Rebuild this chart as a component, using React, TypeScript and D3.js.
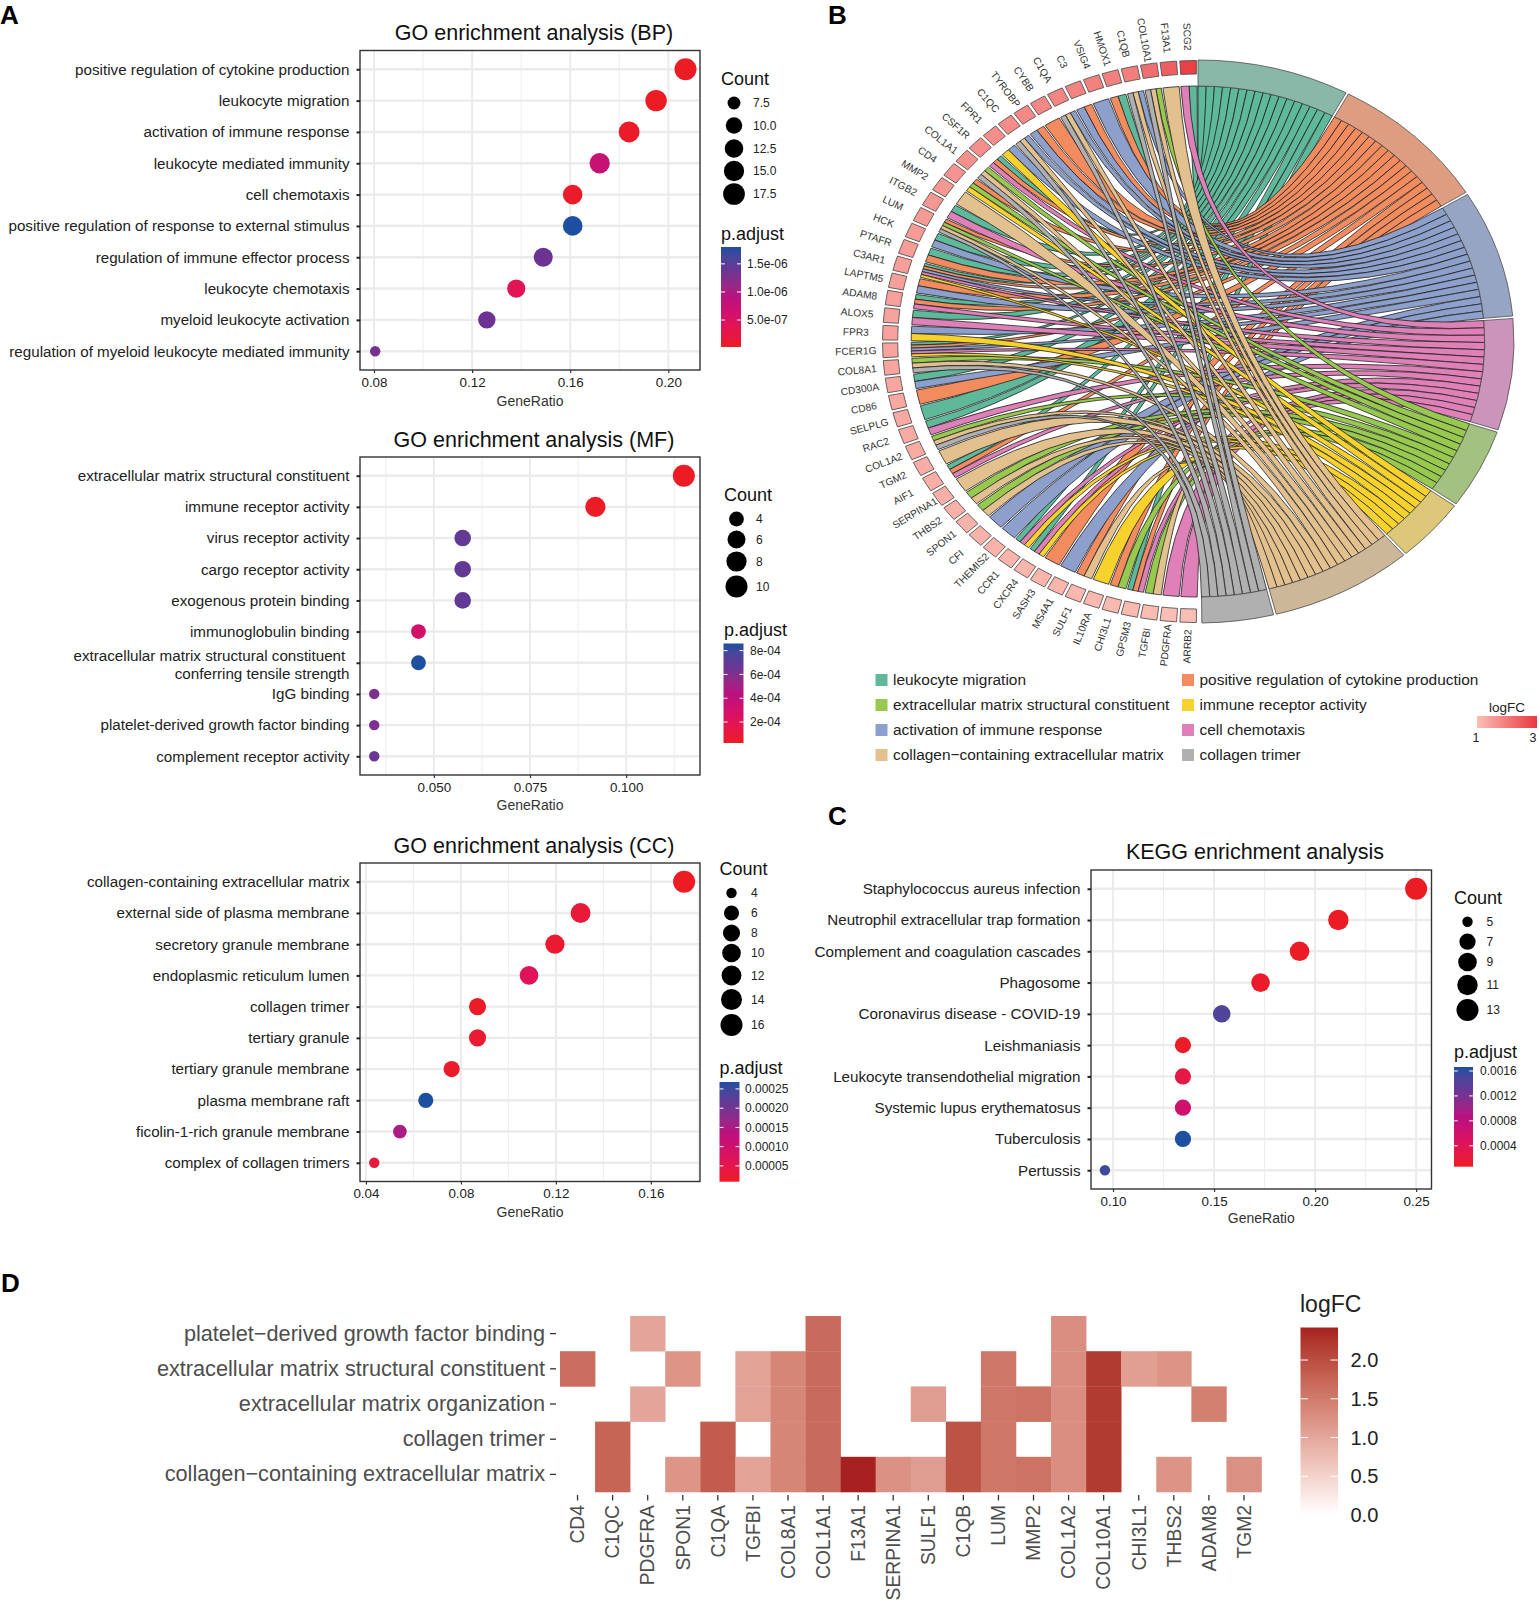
import { useEffect, useRef } from 'react';
import * as d3 from 'd3';

const FONT = '"Liberation Sans", Arial, sans-serif';
// red to blue through magenta and purple, as in the printed colour bars
const padjStops = ['#EC1C24', '#DE1260', '#B9117F', '#6C3393', '#1D4FA0'];

// panel A, biological process
const bpTerms = [
  'positive regulation of cytokine production',
  'leukocyte migration',
  'activation of immune response',
  'leukocyte mediated immunity',
  'cell chemotaxis',
  'positive regulation of response to external stimulus',
  'regulation of immune effector process',
  'leukocyte chemotaxis',
  'myeloid leukocyte activation',
  'regulation of myeloid leukocyte mediated immunity',
];
const bpRatio = [0.207, 0.195, 0.184, 0.172, 0.161, 0.161, 0.149, 0.138, 0.126, 0.0805];
const bpCount = [18, 17, 16, 15, 14, 14, 13, 12, 11, 7];
const bpPadj = [2e-8, 2e-8, 5e-8, 7.6e-7, 6e-8, 1.8e-6, 1.35e-6, 3.7e-7, 1.35e-6, 1.3e-6];

// panel A, molecular function
const mfTerms = [
  'extracellular matrix structural constituent',
  'immune receptor activity',
  'virus receptor activity',
  'cargo receptor activity',
  'exogenous protein binding',
  'immunoglobulin binding',
  'extracellular matrix structural constituent \nconferring tensile strength',
  'IgG binding',
  'platelet-derived growth factor binding',
  'complement receptor activity',
];
const mfRatio = [0.115, 0.092, 0.0575, 0.0575, 0.0575, 0.046, 0.046, 0.0345, 0.0345, 0.0345];
const mfCount = [10, 8, 5, 5, 5, 4, 4, 3, 3, 3];
const mfPadj = [2.4e-5, 3e-5, 6.9e-4, 6.9e-4, 6.9e-4, 2.9e-4, 8.6e-4, 6.1e-4, 6.1e-4, 6.6e-4];

// panel A, cellular component
const ccTerms = [
  'collagen-containing extracellular matrix',
  'external side of plasma membrane',
  'secretory granule membrane',
  'endoplasmic reticulum lumen',
  'collagen trimer',
  'tertiary granule',
  'tertiary granule membrane',
  'plasma membrane raft',
  'ficolin-1-rich granule membrane',
  'complex of collagen trimers',
];
const ccRatio = [0.174, 0.1304, 0.1196, 0.1087, 0.087, 0.087, 0.0761, 0.0652, 0.0543, 0.0435];
const ccCount = [16, 12, 11, 10, 8, 8, 7, 6, 5, 4];
const ccPadj = [9e-6, 3e-5, 2e-5, 6.6e-5, 1.2e-5, 2.2e-5, 1.5e-5, 2.68e-4, 1.5e-4, 3.5e-5];

// panel C, KEGG
const keggTerms = [
  'Staphylococcus aureus infection',
  'Neutrophil extracellular trap formation',
  'Complement and coagulation cascades',
  'Phagosome',
  'Coronavirus disease - COVID-19',
  'Leishmaniasis',
  'Leukocyte transendothelial migration',
  'Systemic lupus erythematosus',
  'Tuberculosis',
  'Pertussis',
];
const keggRatio = [0.25, 0.2115, 0.1923, 0.173, 0.1538, 0.1346, 0.1346, 0.1346, 0.1346, 0.096];
const keggCount = [13, 11, 10, 9, 8, 7, 7, 7, 7, 5];
const keggPadj = [6.4e-5, 7e-5, 8e-5, 1e-4, 1.47e-3, 8e-5, 2.7e-4, 6.2e-4, 1.66e-3, 1.55e-3];

// panel B, chord
const chordTerms = [
  'leukocyte migration',
  'positive regulation of cytokine production',
  'activation of immune response',
  'cell chemotaxis',
  'extracellular matrix structural constituent',
  'immune receptor activity',
  'collagen\u2212containing extracellular matrix',
  'collagen trimer',
];
const ribbonColors = ['#5DB99A', '#F28B5E', '#8DA0CB', '#DF80B8', '#98C94F', '#F7D22D', '#E3C18F', '#B0B0B0'];
const arcColors = ['#8AB8A8', '#DE9C80', '#97A5C4', '#CC94BA', '#A3C281', '#DCC878', '#CCB898', '#B0B0B0'];
const chordGenes = [
  'SCG2', 'F13A1', 'COL10A1', 'C1QB', 'HMOX1', 'VSIG4', 'C3', 'C1QA', 'CYBB', 'TYROBP',
  'C1QC', 'FPR1', 'CSF1R', 'COL1A1', 'CD4', 'MMP2', 'ITGB2', 'LUM', 'HCK', 'PTAFR',
  'C3AR1', 'LAPTM5', 'ADAM8', 'ALOX5', 'FPR3', 'FCER1G', 'COL8A1', 'CD300A', 'CD86', 'SELPLG',
  'RAC2', 'COL1A2', 'TGM2', 'AIF1', 'SERPINA1', 'THBS2', 'SPON1', 'CFI', 'THEMIS2', 'CCR1',
  'CXCR4', 'SASH3', 'MS4A1', 'SULF1', 'IL10RA', 'CHI3L1', 'GPSM3', 'TGFBI', 'PDGFRA', 'ARRB2',
];
const geneLogFC = [
  2.9, 2.42, 2.2, 1.95, 1.93, 1.91, 1.88, 1.85, 1.82, 1.78,
  1.75, 1.72, 1.7, 1.68, 1.65, 1.6, 1.58, 1.55, 1.53, 1.51,
  1.49, 1.47, 1.45, 1.43, 1.42, 1.4, 1.38, 1.36, 1.34, 1.32,
  1.3, 1.28, 1.26, 1.25, 1.24, 1.22, 1.2, 1.19, 1.18, 1.16,
  1.15, 1.14, 1.13, 1.12, 1.1, 1.09, 1.08, 1.06, 1.02, 1.01,
];
// which terms each gene belongs to, same order as chordGenes
const geneTerms = [
  [0, 3], [6], [4, 6, 7], [2, 6, 7], [0, 1], [2], [1, 2], [2, 6, 7], [1], [1, 2],
  [2, 6, 7], [2, 5], [0, 1, 3], [4, 6, 7], [1, 4, 5], [6], [0, 3], [1, 4, 6, 7], [0, 2], [0, 1],
  [0, 1, 2, 3, 5], [1, 2], [0, 1, 3], [0, 3], [2, 5], [0, 1, 2, 3, 5], [4, 6, 7], [0, 2], [1], [0],
  [0, 3], [4, 6, 7], [6], [0, 1, 3], [6], [4, 6], [4, 6], [2], [2], [0, 3, 5],
  [0, 3, 5], [1], [2], [1, 6], [5], [1, 4], [0, 1, 3], [4, 6], [3], [3],
];
// legend reads across the two columns in this term order
const chordLegendOrder = [0, 1, 4, 5, 2, 3, 6, 7];

// panel D, heatmap
const heatGenes = [
  'CD4', 'C1QC', 'PDGFRA', 'SPON1', 'C1QA', 'TGFBI', 'COL8A1', 'COL1A1', 'F13A1', 'SERPINA1',
  'SULF1', 'C1QB', 'LUM', 'MMP2', 'COL1A2', 'COL10A1', 'CHI3L1', 'THBS2', 'ADAM8', 'TGM2',
];
const heatTerms = [
  'platelet\u2212derived growth factor binding',
  'extracellular matrix structural constituent',
  'extracellular matrix organization',
  'collagen trimer',
  'collagen\u2212containing extracellular matrix',
];
const heatMembers = [
  ['PDGFRA', 'COL1A1', 'COL1A2'],
  ['CD4', 'SPON1', 'TGFBI', 'COL8A1', 'COL1A1', 'LUM', 'COL1A2', 'COL10A1', 'CHI3L1', 'THBS2'],
  ['PDGFRA', 'TGFBI', 'COL8A1', 'COL1A1', 'SULF1', 'LUM', 'MMP2', 'COL1A2', 'COL10A1', 'ADAM8'],
  ['C1QC', 'C1QA', 'COL8A1', 'COL1A1', 'C1QB', 'LUM', 'COL1A2', 'COL10A1'],
  ['C1QC', 'SPON1', 'C1QA', 'TGFBI', 'COL8A1', 'COL1A1', 'F13A1', 'SERPINA1', 'SULF1', 'C1QB', 'LUM', 'MMP2', 'COL1A2', 'COL10A1', 'THBS2', 'TGM2'],
];

const dotPanels = [
  {
    id: 'bp', title: 'GO enrichment analysis (BP)', terms: bpTerms, ratio: bpRatio, count: bpCount, padj: bpPadj,
    plot: { l: 360, r: 700, t: 50.5, b: 370 }, titleX: 534, titleY: 40, xLabelOffset: 36,
    xDomain: [0.0743, 0.2129], xMajor: [0.08, 0.12, 0.16, 0.2], xMinor: [0.1, 0.14, 0.18], xFormat: '.2f',
    sizeKeys: [7.5, 10, 12.5, 15, 17.5], sizeKeyLabels: ['7.5', '10.0', '12.5', '15.0', '17.5'], sizeKeyY: [103, 125.5, 148.5, 171, 194],
    legendX: 721, countY: 85, keyX: 734, keyLabelX: 753,
    padjTitleY: 240, bar: { x: 721, w: 20, t: 247, b: 347 }, barLabelX: 747, pDomain: [2e-8, 1.8e-6],
    pTicks: [5e-7, 1e-6, 1.5e-6], pLabels: ['5.0e-07', '1.0e-06', '1.5e-06'],
  },
  {
    id: 'mf', title: 'GO enrichment analysis (MF)', terms: mfTerms, ratio: mfRatio, count: mfCount, padj: mfPadj,
    plot: { l: 360, r: 700, t: 457, b: 775 }, titleX: 534, titleY: 447, xLabelOffset: 35,
    xDomain: [0.0308, 0.1192], xMajor: [0.05, 0.075, 0.1], xMinor: [0.0375, 0.0625, 0.0875, 0.1125], xFormat: '.3f',
    sizeKeys: [4, 6, 8, 10], sizeKeyLabels: ['4', '6', '8', '10'], sizeKeyY: [519, 539.5, 561.5, 586.5],
    legendX: 724, countY: 501, keyX: 736.5, keyLabelX: 756,
    padjTitleY: 636, bar: { x: 723.5, w: 20, t: 643.5, b: 743 }, barLabelX: 750, pDomain: [2.4e-5, 8.6e-4],
    pTicks: [2e-4, 4e-4, 6e-4, 8e-4], pLabels: ['2e-04', '4e-04', '6e-04', '8e-04'],
  },
  {
    id: 'cc', title: 'GO enrichment analysis (CC)', terms: ccTerms, ratio: ccRatio, count: ccCount, padj: ccPadj,
    plot: { l: 360, r: 700, t: 863, b: 1181.5 }, titleX: 534, titleY: 853, xLabelOffset: 35,
    xDomain: [0.0375, 0.1807], xMajor: [0.04, 0.08, 0.12, 0.16], xMinor: [0.06, 0.1, 0.14, 0.18], xFormat: '.2f',
    sizeKeys: [4, 6, 8, 10, 12, 14, 16], sizeKeyLabels: ['4', '6', '8', '10', '12', '14', '16'], sizeKeyY: [893, 913, 933, 953, 975.5, 999.5, 1025],
    legendX: 719.5, countY: 875, keyX: 731.5, keyLabelX: 751,
    padjTitleY: 1074, bar: { x: 719.5, w: 20, t: 1082, b: 1181.7 }, barLabelX: 745, pDomain: [9e-6, 2.68e-4],
    pTicks: [5e-5, 1e-4, 1.5e-4, 2e-4, 2.5e-4], pLabels: ['0.00005', '0.00010', '0.00015', '0.00020', '0.00025'],
  },
  {
    id: 'kegg', title: 'KEGG enrichment analysis', terms: keggTerms, ratio: keggRatio, count: keggCount, padj: keggPadj,
    plot: { l: 1091, r: 1431.5, t: 870, b: 1189 }, titleX: 1255, titleY: 859, xLabelOffset: 34,
    xDomain: [0.0891, 0.2576], xMajor: [0.1, 0.15, 0.2, 0.25], xMinor: [0.125, 0.175, 0.225], xFormat: '.2f',
    sizeKeys: [5, 7, 9, 11, 13], sizeKeyLabels: ['5', '7', '9', '11', '13'], sizeKeyY: [921.7, 941.7, 962, 985, 1010],
    legendX: 1454, countY: 904, keyX: 1467.5, keyLabelX: 1486.5,
    padjTitleY: 1058, bar: { x: 1454, w: 19, t: 1067, b: 1166.7 }, barLabelX: 1480, pDomain: [6.4e-5, 1.664e-3],
    pTicks: [4e-4, 8e-4, 1.2e-3, 1.6e-3], pLabels: ['0.0004', '0.0008', '0.0012', '0.0016'],
  },
];

function drawColorbar(g: any, id: string, bar: any, color: any, domain: number[], ticks: number[], labels: string[], labelX: number, fs: number) {
  const stops = d3.range(0, 1.001, 0.1);
  const grad = g.append('defs').append('linearGradient').attr('id', id).attr('x1', 0).attr('x2', 0).attr('y1', 1).attr('y2', 0);
  grad.selectAll('stop').data(stops).join('stop')
    .attr('offset', (d: number) => d)
    .attr('stop-color', (d: number) => color(domain[0] + d * (domain[1] - domain[0])));
  g.append('rect').attr('x', bar.x).attr('y', bar.t).attr('width', bar.w).attr('height', bar.b - bar.t).attr('fill', `url(#${id})`);
  const y = d3.scaleLinear().domain(domain).range([bar.b, bar.t]);
  ticks.forEach((t, i) => {
    const len = bar.w / 5;
    g.append('line').attr('x1', bar.x).attr('x2', bar.x + len).attr('y1', y(t)).attr('y2', y(t)).attr('stroke', '#fff').attr('stroke-width', 1);
    g.append('line').attr('x1', bar.x + bar.w - len).attr('x2', bar.x + bar.w).attr('y1', y(t)).attr('y2', y(t)).attr('stroke', '#fff').attr('stroke-width', 1);
    g.append('text').attr('x', labelX).attr('y', y(t)).attr('dy', '0.35em').attr('font-size', fs).attr('fill', '#222').text(labels[i]);
  });
}

function drawDotPlot(svg: any, p: any) {
  const g = svg.append('g').attr('font-family', FONT);
  const { l, r, t, b } = p.plot;
  const x = d3.scaleLinear().domain(p.xDomain).range([l, r]);
  const y = d3.scalePoint().domain(p.terms).range([t, b]).padding(0.6);
  const [p0, p1] = p.pDomain;
  const color = d3.scaleLinear<string>()
    .domain(padjStops.map((_, i) => p0 + (i / (padjStops.length - 1)) * (p1 - p0)))
    .range(padjStops)
    .interpolate(d3.interpolateLab);
  const minC = d3.min(p.count as number[]) as number;
  const maxC = d3.max(p.count as number[]) as number;
  const sq = d3.scaleSqrt().domain([0, maxC - minC]).range([5.2, 11]);
  const size = (c: number) => sq(c - minC);

  // grid
  g.selectAll('.minor').data(p.xMinor).join('line').attr('x1', (d: number) => x(d)).attr('x2', (d: number) => x(d))
    .attr('y1', t).attr('y2', b).attr('stroke', '#EDEDED').attr('stroke-width', 1);
  g.selectAll('.major').data(p.xMajor).join('line').attr('x1', (d: number) => x(d)).attr('x2', (d: number) => x(d))
    .attr('y1', t).attr('y2', b).attr('stroke', '#EBEBEB').attr('stroke-width', 2);
  p.terms.forEach((d: string) => {
    g.append('line').attr('x1', l).attr('x2', r).attr('y1', y(d)).attr('y2', y(d)).attr('stroke', '#EBEBEB').attr('stroke-width', 2.4);
  });

  // dots
  g.selectAll('circle.dot').data(p.terms).join('circle').attr('class', 'dot')
    .attr('cx', (_: string, i: number) => x(p.ratio[i]))
    .attr('cy', (d: string) => y(d))
    .attr('r', (_: string, i: number) => size(p.count[i]))
    .attr('fill', (_: string, i: number) => color(p.padj[i]));

  g.append('rect').attr('x', l).attr('y', t).attr('width', r - l).attr('height', b - t)
    .attr('fill', 'none').attr('stroke', '#333').attr('stroke-width', 1.4);

  // axes
  const xAxis = g.append('g').attr('transform', `translate(0,${b})`)
    .call(d3.axisBottom(x).tickValues(p.xMajor).tickSize(3).tickPadding(4).tickFormat(d3.format(p.xFormat) as any));
  xAxis.select('.domain').remove();
  xAxis.selectAll('line').attr('stroke', '#333').attr('stroke-width', 1.2);
  xAxis.selectAll('text').attr('font-size', 13.4).attr('font-family', FONT).attr('fill', '#222');

  const yAxis = g.append('g').attr('transform', `translate(${l},0)`)
    .call(d3.axisLeft(y).tickSize(3.5).tickPadding(7));
  yAxis.select('.domain').remove();
  yAxis.selectAll('line').attr('stroke', '#222').attr('stroke-width', 2);
  yAxis.selectAll('text').attr('font-size', 15.2).attr('font-family', FONT).attr('fill', '#222')
    .each(function (this: any, d: string) {
      const parts = d.split('\n');
      if (parts.length < 2) return;
      const sel = d3.select(this).text(null);
      parts.forEach((s, i) => {
        sel.append('tspan').attr('x', -10.5).attr('y', (i - 0.5) * 18.5 + 2).attr('dy', '0.32em').text(s);
      });
    });

  g.append('text').attr('x', (l + r) / 2).attr('y', b + p.xLabelOffset).attr('text-anchor', 'middle').attr('font-size', 14).attr('fill', '#333').text('GeneRatio');
  g.append('text').attr('x', p.titleX).attr('y', p.titleY).attr('text-anchor', 'middle').attr('font-size', 21.5).attr('fill', '#111').text(p.title);

  // legends
  g.append('text').attr('x', p.legendX).attr('y', p.countY).attr('font-size', 18).attr('fill', '#111').text('Count');
  p.sizeKeys.forEach((k: number, i: number) => {
    g.append('circle').attr('cx', p.keyX).attr('cy', p.sizeKeyY[i]).attr('r', size(k)).attr('fill', '#000');
    g.append('text').attr('x', p.keyLabelX).attr('y', p.sizeKeyY[i]).attr('dy', '0.35em').attr('font-size', 12).attr('fill', '#222').text(p.sizeKeyLabels[i]);
  });
  g.append('text').attr('x', p.legendX).attr('y', p.padjTitleY).attr('font-size', 18).attr('fill', '#111').text('p.adjust');
  drawColorbar(g, 'bar-' + p.id, p.bar, color, p.pDomain, p.pTicks, p.pLabels, p.barLabelX, 12);
}

function drawChord(svg: any) {
  const cx = 1198;
  const cy = 341.5;
  const sx = 316 / 281.5;
  const rOuter = 281.5;
  const rInner = 255.5;
  const rLabel = 305;
  const rad = Math.PI / 180;
  const g = svg.append('g').attr('font-family', FONT);
  const ring = g.append('g').attr('transform', `translate(${cx},${cy}) scale(${sx},1)`);

  const step = 180 / chordGenes.length;
  const termCounts = chordTerms.map((_, t) => geneTerms.filter((gt) => gt.includes(t)).length);
  const termGap = 0.5;
  const unit = (179.3 - termGap * (chordTerms.length - 1)) / d3.sum(termCounts);

  // term arcs run clockwise from the top
  let cursor = 0;
  const termStart = termCounts.map((n) => {
    const s = cursor;
    cursor += n * unit + termGap;
    return s;
  });
  const used = termCounts.map(() => 0);

  const ribbon = d3.ribbon().radius(rInner);
  const ribbons: any[] = [];
  chordGenes.forEach((_, i) => {
    const terms = geneTerms[i];
    const a0 = i * step + 0.17;
    const w = (step - 0.34) / terms.length;
    terms.forEach((t, k) => {
      const near = a0 + k * w;
      const far = near + w;
      const b0 = termStart[t] + used[t] * unit;
      used[t] += 1;
      ribbons.push({
        term: t,
        source: { startAngle: -far * rad, endAngle: -near * rad },
        target: { startAngle: b0 * rad, endAngle: (b0 + unit) * rad },
      });
    });
  });
  // later terms lie on top
  ribbons.sort((a, b) => a.term - b.term);
  ring.selectAll('path.rib').data(ribbons).join('path').attr('class', 'rib')
    .attr('d', (d: any) => ribbon(d))
    .attr('fill', (d: any) => ribbonColors[d.term])
    .attr('stroke', '#222').attr('stroke-width', 0.8).attr('vector-effect', 'non-scaling-stroke');

  // term arcs
  const arc = d3.arc().innerRadius(rInner).outerRadius(rOuter);
  chordTerms.forEach((_, t) => {
    ring.append('path')
      .attr('d', arc({ startAngle: termStart[t] * rad, endAngle: (termStart[t] + termCounts[t] * unit) * rad } as any))
      .attr('fill', arcColors[t]).attr('stroke', '#4d4d4d').attr('stroke-width', 0.8).attr('vector-effect', 'non-scaling-stroke');
  });

  // gene cells and their labels
  const fc = d3.scaleLinear<string>().domain([1, 3]).range(['#FBBFB5', '#E8383F']);
  const cell = d3.arc().innerRadius(267.5).outerRadius(rOuter - 0.5);
  chordGenes.forEach((name, i) => {
    ring.append('path')
      .attr('d', cell({ startAngle: -(i + 1) * step * rad + 0.3 * rad, endAngle: -i * step * rad - 0.3 * rad } as any))
      .attr('fill', fc(geneLogFC[i])).attr('stroke', '#555').attr('stroke-width', 0.9).attr('vector-effect', 'non-scaling-stroke');
    const th = (i + 0.5) * step * rad;
    const lx = cx - rLabel * sx * Math.sin(th);
    const ly = cy - rLabel * Math.cos(th);
    const ang = (Math.atan2(Math.cos(th), sx * Math.sin(th)) * 180) / Math.PI;
    g.append('text').attr('transform', `translate(${lx},${ly}) rotate(${ang})`)
      .attr('text-anchor', 'middle').attr('dy', '0.35em').attr('font-size', 10.2).attr('fill', '#333').text(name);
  });

  // term legend, two columns
  const colX = [875.5, 1182];
  const rowY = [680, 705, 730, 755];
  chordLegendOrder.forEach((term, t) => {
    const col = t % 2;
    const row = Math.floor(t / 2);
    g.append('rect').attr('x', colX[col]).attr('y', rowY[row] - 6).attr('width', 12).attr('height', 12).attr('fill', ribbonColors[term]);
    g.append('text').attr('x', colX[col] + 17.5).attr('y', rowY[row]).attr('dy', '0.33em').attr('font-size', 15.45).attr('fill', '#222').text(chordTerms[term]);
  });

  // logFC key
  const keyG = g.append('g');
  const grad = keyG.append('defs').append('linearGradient').attr('id', 'chord-fc');
  grad.append('stop').attr('offset', 0).attr('stop-color', fc(1));
  grad.append('stop').attr('offset', 1).attr('stop-color', fc(3));
  keyG.append('rect').attr('x', 1477).attr('y', 716).attr('width', 60).attr('height', 12).attr('fill', 'url(#chord-fc)');
  keyG.append('text').attr('x', 1507).attr('y', 712).attr('text-anchor', 'middle').attr('font-size', 13.5).attr('fill', '#222').text('logFC');
  keyG.append('text').attr('x', 1476).attr('y', 742).attr('text-anchor', 'middle').attr('font-size', 12.5).attr('fill', '#222').text('1');
  keyG.append('text').attr('x', 1533).attr('y', 742).attr('text-anchor', 'middle').attr('font-size', 12.5).attr('fill', '#222').text('3');
}

function drawHeatmap(svg: any) {
  const g = svg.append('g').attr('font-family', FONT);
  const x = d3.scaleBand().domain(heatGenes).range([560, 1261.5]);
  const y = d3.scaleBand().domain(heatTerms).range([1316, 1492]);
  const fcMax = 2.42;
  const color = d3.scaleLinear<string>().domain([0, fcMax]).range(['#FFFFFF', '#A6211F']).interpolate(d3.interpolateLab);
  const fcOf = (gene: string) => geneLogFC[chordGenes.indexOf(gene)];

  heatTerms.forEach((term, r) => {
    g.selectAll(null).data(heatMembers[r]).join('rect')
      .attr('x', (d: string) => x(d))
      .attr('y', y(term))
      .attr('width', x.bandwidth() + 0.3)
      .attr('height', y.bandwidth() + 0.3)
      .attr('fill', (d: string) => color(fcOf(d)));
  });

  const xAxis = g.append('g').attr('transform', 'translate(0,1495)').call(d3.axisBottom(x).tickSize(5.5).tickPadding(6));
  xAxis.select('.domain').remove();
  xAxis.selectAll('line').attr('stroke', '#333').attr('stroke-width', 1.3);
  xAxis.selectAll('text').attr('font-size', 19.3).attr('font-family', FONT).attr('fill', '#4D4D4D')
    .attr('text-anchor', 'end').attr('transform', 'rotate(-90)').attr('x', -10).attr('y', 0).attr('dy', '0.35em');

  const yAxis = g.append('g').attr('transform', 'translate(556,0)').call(d3.axisLeft(y).tickSize(6).tickPadding(5));
  yAxis.select('.domain').remove();
  yAxis.selectAll('line').attr('stroke', '#333').attr('stroke-width', 1.3);
  yAxis.selectAll('text').attr('font-size', 21.7).attr('font-family', FONT).attr('fill', '#4D4D4D');

  g.append('text').attr('x', 1300).attr('y', 1312).attr('font-size', 23).attr('fill', '#222').text('logFC');
  drawColorbar(g, 'heat-bar', { x: 1300.5, w: 37.5, t: 1327.5, b: 1515 }, color, [0, fcMax], [0.5, 1, 1.5, 2], ['0.5', '1.0', '1.5', '2.0'], 1350.5, 20);
  g.append('text').attr('x', 1350.5).attr('y', 1515).attr('dy', '0.35em').attr('font-size', 20).attr('fill', '#222').text('0.0');
}

export default function App() {
  const ref = useRef<SVGSVGElement | null>(null);

  useEffect(() => {
    const svg = d3.select(ref.current);
    svg.selectAll('*').remove();
    dotPanels.forEach((p) => drawDotPlot(svg, p));
    drawChord(svg);
    drawHeatmap(svg);

    const letters = svg.append('g').attr('font-family', FONT).attr('font-weight', 700).attr('font-size', 26).attr('fill', '#000');
    letters.append('text').attr('x', 0).attr('y', 24).text('A');
    letters.append('text').attr('x', 828).attr('y', 24).text('B');
    letters.append('text').attr('x', 828).attr('y', 825).text('C');
    letters.append('text').attr('x', 1).attr('y', 1292).text('D');
  }, []);

  return <svg ref={ref} width={1540} height={1606} style={{ position: 'absolute', left: 0, top: 0, background: '#fff' }} />;
}
